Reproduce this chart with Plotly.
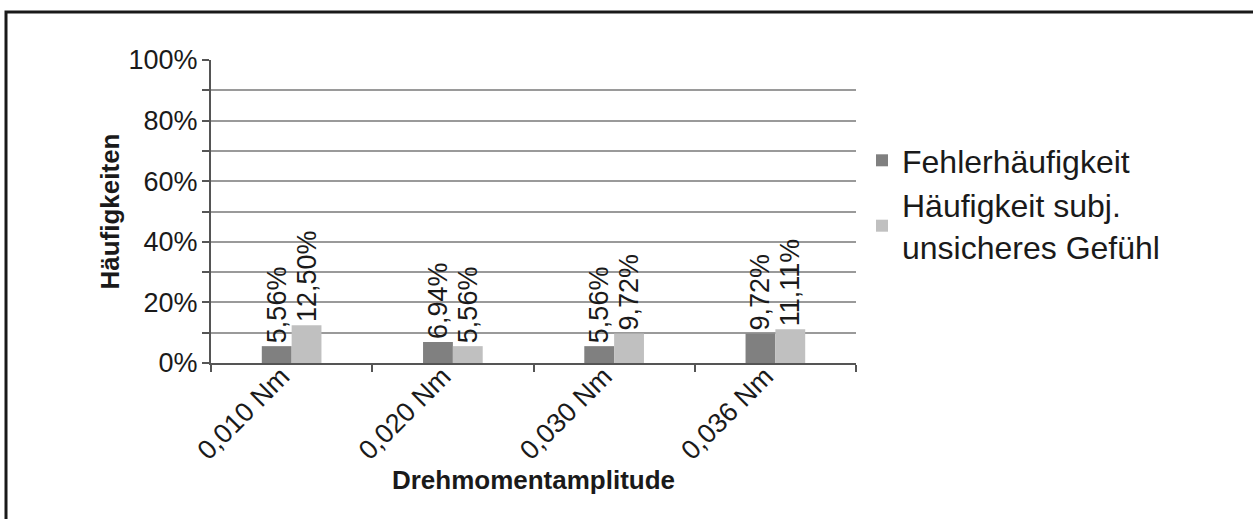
import plotly.graph_objects as go

categories = ["0,010 Nm", "0,020 Nm", "0,030 Nm", "0,036 Nm"]
fehler = [0.0556, 0.0694, 0.0556, 0.0972]
fehler_text = ["5,56%", "6,94%", "5,56%", "9,72%"]
unsicher = [0.1250, 0.0556, 0.0972, 0.1111]
unsicher_text = ["12,50%", "5,56%", "9,72%", "11,11%"]
y_tickvals = [0, 0.1, 0.2, 0.3, 0.4, 0.5, 0.6, 0.7, 0.8, 0.9, 1.0]
y_ticktext = ["0%", "", "20%", "", "40%", "", "60%", "", "80%", "", "100%"]

FONT = "Liberation Sans, Arial, sans-serif"
INK = "#1a1a1a"

fig = go.Figure()
fig.add_trace(go.Bar(
    x=categories, y=fehler, name="Fehlerhäufigkeit",
    marker=dict(color="#808080", line=dict(width=0)),
    text=fehler_text, textposition="outside", textangle=-90,
    constraintext="none", cliponaxis=False,
    textfont=dict(family=FONT, size=27, color=INK),
))
fig.add_trace(go.Bar(
    x=categories, y=unsicher, name="Häufigkeit subj.<br>unsicheres Gefühl",
    marker=dict(color="#c0c0c0", line=dict(width=0)),
    text=unsicher_text, textposition="outside", textangle=-90,
    constraintext="none", cliponaxis=False,
    textfont=dict(family=FONT, size=27, color=INK),
))

W, H = 1253, 519
L, R, T, B = 211, 397, 60, 156
pw, ph = W - L - R, H - T - B

fig.update_layout(
    width=W, height=H,
    margin=dict(l=L, r=R, t=T, b=B, autoexpand=False),
    paper_bgcolor="white", plot_bgcolor="white",
    font=dict(family=FONT, color=INK, size=27),
    barmode="group", bargap=0.63, bargroupgap=0,
    showlegend=True,
    legend=dict(
        x=(862 - L) / pw, xanchor="left", y=(H - B - 133) / ph, yanchor="top",
        font=dict(family=FONT, size=32, color=INK),
        bgcolor="rgba(0,0,0,0)", itemwidth=30,
    ),
    xaxis=dict(
        automargin=False,
        tickangle=-45, tickfont=dict(size=27),
        ticklabelstandoff=-15, ticklabelshift=-10,
        showline=True, linecolor="#555555", linewidth=2,
        ticks="outside", tickson="boundaries", ticklen=7,
        tickcolor="#555555", tickwidth=2,
        showgrid=False,
        title=dict(text="<b>Drehmomentamplitude</b>", font=dict(size=26), standoff=4),
    ),
    yaxis=dict(
        automargin=False,
        range=[0, 1], tickvals=y_tickvals, ticktext=y_ticktext,
        tickfont=dict(size=27), ticklabelstandoff=-1,
        showline=True, linecolor="#555555", linewidth=2,
        ticks="outside", ticklen=7, tickcolor="#555555", tickwidth=2,
        showgrid=True, gridcolor="#9a9a9a", gridwidth=2,
        zeroline=False,
        title=dict(text="<b>Häufigkeiten</b>", font=dict(size=26), standoff=1),
    ),
    shapes=[dict(
        type="rect", xref="paper", yref="paper",
        x0=(6 - L) / pw, x1=(1275 - L) / pw,
        y0=(H - B - 540) / ph, y1=(H - B - 12) / ph,
        line=dict(color="#1a1a1a", width=3), fillcolor="rgba(0,0,0,0)",
    )],
)

# the page body has a default 8px margin; drop it so the figure sits at 0,0
fig.write_html("out.html", config=dict(displayModeBar=False),
               post_script="document.body.style.margin='0';")
